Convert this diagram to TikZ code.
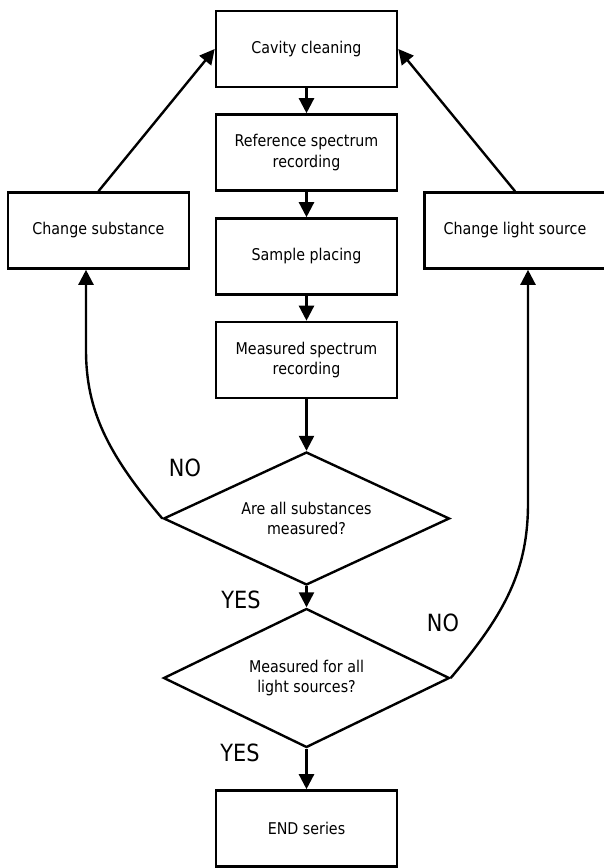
\documentclass[tikz,border=0pt]{standalone}
\usepackage{fontspec}
\setmainfont{DejaVu Sans}[FakeStretch=0.88]
\usetikzlibrary{shapes.geometric,arrows.meta}
\begin{document}
\begin{tikzpicture}[x=1pt,y=-1pt,
  box/.style={draw,line width=2.6pt,minimum width=181pt,minimum height=76pt,inner sep=0pt,align=center,font=\fontsize{16.2}{20.5}\selectfont},
  dec/.style={draw,diamond,aspect=2.15,line width=2.4pt,minimum width=286pt,inner sep=0pt,align=center,font=\fontsize{16.2}{20.5}\selectfont},
  arr/.style={line width=2.4pt,-{Triangle[length=15pt,width=15pt]}},
  lab/.style={font=\fontsize{23.7}{28}\selectfont,inner sep=0pt}]
\useasboundingbox (0,0) rectangle (604,868);
\node[box] (cav) at (306.5,49) {Cavity cleaning};
\node[box] (ref) at (306.5,152.5) {Reference spectrum\\recording};
\node[box] (sam) at (306.5,256.5) {Sample placing};
\node[box] (mea) at (306.5,360) {Measured spectrum\\recording};
\node[dec,minimum height=133pt] (d1) at (306.5,518.5) {Are all substances\\measured?};
\node[dec,minimum height=139pt] (d2) at (306.5,678) {Measured for all\\light sources?};
\node[box] (end) at (306.5,828.5) {END series};
\node[box] (cs) at (98.5,230.5) {Change substance};
\node[box] (cl) at (515,230.5) {Change light source};

\draw[arr] (cav) -- (ref);
\draw[arr] (ref) -- (sam);
\draw[arr] (sam) -- (mea);
\draw[arr] (mea) -- (d1);
\draw[arr] (d1) -- (d2);
\draw[arr] (d2) -- (end);
\draw[arr] (cs.north) -- (cav.west);
\draw[arr] (cl.north) -- (cav.east);

\coordinate (csin) at ([xshift=-12.5pt]cs.south);
\coordinate (clin) at ([xshift=13pt]cl.south);
\draw[arr] (d1.west) .. controls +(-55,-65) and +(0,60) .. (csin |- 0,350) -- (csin);
\draw[arr] (d2.east) .. controls +(55,-65) and +(0,67) .. (clin |- 0,503) -- (clin);

\node[lab] (no1) at (185,468) {NO};
\node[lab] (yes1) at (241,600) {YES};
\node[lab] (no2) at (443,623) {NO};
\node[lab] (yes2) at (240,753) {YES};
\end{tikzpicture}
\end{document}
